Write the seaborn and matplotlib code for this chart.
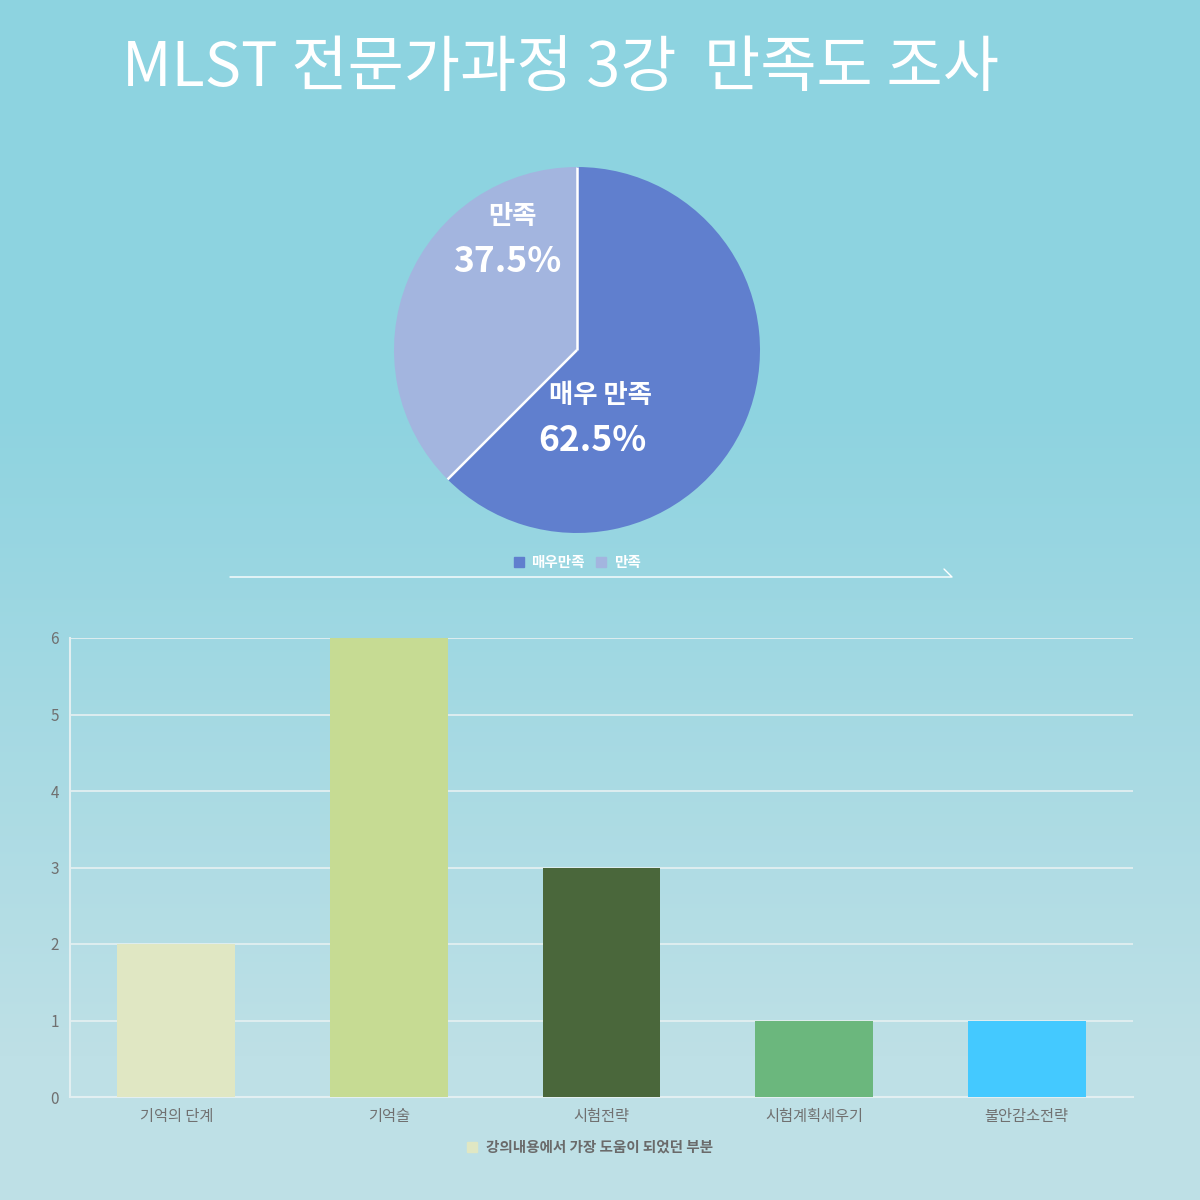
import numpy as np
import matplotlib
matplotlib.use("Agg")
import matplotlib.pyplot as plt
import seaborn as sns
from matplotlib.lines import Line2D
from matplotlib.patches import Patch

# data
title = "MLST 전문가과정 3강  만족도 조사"
pie_labels = ["매우 만족", "만족"]
pie_legend = ["매우만족", "만족"]
pie_values = [62.5, 37.5]
pie_colors = ["#607FCE", "#A3B5DF"]

bar_cats = ["기억의 단계", "기억술", "시험전략", "시험계획세우기", "불안감소전략"]
bar_vals = [2, 6, 3, 1, 1]
bar_colors = ["#E0E7C3", "#C6DB93", "#4A673B", "#6BB77D", "#44C9FF"]
bar_series = "강의내용에서 가장 도움이 되었던 부분"

sns.set_theme(style="white")
plt.rcParams['font.family'] = ['Noto Sans CJK KR', 'DejaVu Sans']

W = 1200
fig = plt.figure(figsize=(12, 12), dpi=100)

# background gradient
bg = fig.add_axes([0, 0, 1, 1], zorder=-10)
top = np.array([141, 211, 224]) / 255
bot = np.array([190, 224, 230]) / 255
t = np.linspace(0, 1, 600)
mix = np.clip((t - 0.33) / (0.55), 0, 1)[:, None]
grad = top * (1 - mix) + bot * mix
bg.imshow(grad[:, None, :], aspect='auto', extent=[0, 1, 1, 0])
bg.set_xlim(0, 1)
bg.set_ylim(1, 0)
bg.axis('off')

# title
fig.text(561 / W, 1 - 69 / W, title, ha='center', va='center',
         color='white', fontsize=44)

# pie
cx, cy, r = 577, 350, 183
pax = fig.add_axes([(cx - r) / W, 1 - (cy + r) / W, 2 * r / W, 2 * r / W])
wedges, _ = pax.pie(pie_values, colors=pie_colors, startangle=90, counterclock=False,
                    wedgeprops=dict(linewidth=0))
# white separators between slices only
for w in wedges:
    a = np.deg2rad(w.theta1)
    pax.plot([0, np.cos(a)], [0, np.sin(a)], color='white', lw=1.8,
             solid_capstyle='butt', clip_on=False)
pax.set_xlim(-1, 1)
pax.set_ylim(-1, 1)
pax.set_aspect('equal')
pax.axis('off')

lab_pos = [((0.126, -0.251), (0.082, -0.497)), ((-0.355, 0.732), (-0.383, 0.481))]
for lab, val, (p1, p2) in zip(pie_labels, pie_values, lab_pos):
    pax.text(p1[0], p1[1], lab, ha='center', va='center', color='white',
             fontsize=19, fontweight='bold')
    pax.text(p2[0], p2[1], f"{val}%", ha='center', va='center', color='white',
             fontsize=25.5, fontweight='bold')

fig.legend([Patch(color=c) for c in pie_colors], pie_legend, loc='center',
           bbox_to_anchor=(577 / W, 1 - 562 / W),
           ncol=2, frameon=False, handlelength=0.7, handleheight=0.7,
           handletextpad=0.5, columnspacing=0.8, labelcolor='white',
           prop=dict(size=10.5, weight='bold'))

# divider line
fig.add_artist(Line2D([230 / W, 952 / W, 944 / W],
                      [1 - 577 / W, 1 - 577 / W, 1 - 569 / W],
                      color='white', lw=1.0, transform=fig.transFigure))

# bar chart
bax = fig.add_axes([70 / W, 1 - 1097 / W, (1133 - 70) / W, (1097 - 638) / W])
bax.set_facecolor('none')
sns.barplot(x=bar_cats, y=bar_vals, hue=bar_cats, palette=bar_colors,
            width=0.555, legend=False, ax=bax, saturation=1, zorder=3,
            linewidth=0)
bax.set_xlim(-0.5, len(bar_cats) - 0.5)
bax.set_ylim(0, 6)
bax.set_yticks(range(0, 7))
bax.yaxis.grid(True, color='#E2EFF1', lw=1.3, zorder=0)
bax.set_axisbelow(True)
for s in ['top', 'right']:
    bax.spines[s].set_visible(False)
for s in ['left', 'bottom']:
    bax.spines[s].set_color('#E2EFF1')
    bax.spines[s].set_linewidth(1.5)
bax.tick_params(axis='both', length=0, labelsize=11, labelcolor='#707070')
bax.tick_params(axis='y', pad=8)
bax.tick_params(axis='x', pad=8)
bax.set_xlabel('')
bax.set_ylabel('')

fig.legend([Patch(color=bar_colors[0])], [bar_series], loc='center',
           bbox_to_anchor=(590 / W, 1 - 1147 / W), frameon=False,
           handlelength=0.7, handleheight=0.7, handletextpad=0.6,
           labelcolor='#6A6A6A', prop=dict(size=10.5, weight='bold'))

fig.savefig("out.png", dpi=100)
